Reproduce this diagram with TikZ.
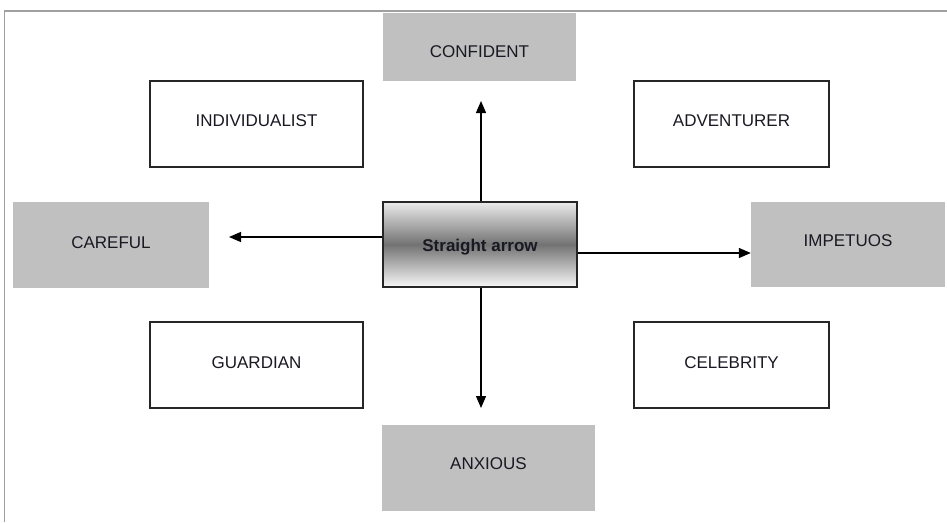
\documentclass[tikz,border=0pt]{standalone}
\usepackage{fontspec}
\setmainfont{Liberation Sans}
\usetikzlibrary{arrows.meta}
\definecolor{boxgray}{RGB}{192,192,192}
\definecolor{framegray}{RGB}{160,160,160}
\definecolor{txt}{RGB}{25,25,35}
\newcommand{\shiftup}[2]{\raisebox{#1}[12pt][0pt]{#2}}
\tikzset{
  graybox/.style={fill=boxgray, draw=none, inner sep=0pt, font=\fontsize{17}{20}\selectfont, text=txt},
  whitebox/.style={fill=white, draw=black!85, line width=1.5pt, inner sep=0pt, font=\fontsize{17}{20}\selectfont, text=txt},
  centerbox/.style={draw=black!85, line width=1.5pt, inner sep=0pt, top color=white!92!black, bottom color=white!97!black, middle color=black!55, font=\bfseries\fontsize{17}{20}\selectfont, text=txt},
  arr/.style={-{Triangle[length=12pt,width=10pt]}, line width=1.3pt, black}
}
\begin{document}
\begin{tikzpicture}[x=1pt,y=-1pt]
\useasboundingbox (0,0) rectangle (947,522);
\fill[white] (0,0) rectangle (947,522);
% frame
\draw[framegray, line width=1.5pt] (4.5,522) -- (4.5,11) -- (947,11);
% gray boxes
\node[graybox, minimum width=193pt, minimum height=68pt] (conf) at (479.5,47) {\shiftup{-4pt}{CONFIDENT}};
\node[graybox, minimum width=196pt, minimum height=86pt] (care) at (111,245) {\shiftup{3pt}{CAREFUL}};
\node[graybox, minimum width=194pt, minimum height=85pt] (imp) at (848,244.5) {\shiftup{4pt}{IMPETUOS}};
\node[graybox, minimum width=213pt, minimum height=86pt] (anx) at (488.5,468) {\shiftup{5pt}{ANXIOUS}};
% white boxes
\node[whitebox, minimum width=213pt, minimum height=86pt] (ind) at (256.5,124) {\shiftup{4pt}{INDIVIDUALIST}};
\node[whitebox, minimum width=195pt, minimum height=86pt] (adv) at (731.5,124) {\shiftup{4pt}{ADVENTURER}};
\node[whitebox, minimum width=213pt, minimum height=86pt] (gua) at (256.5,365) {\shiftup{3pt}{GUARDIAN}};
\node[whitebox, minimum width=195pt, minimum height=86pt] (cel) at (731.5,365) {\shiftup{3pt}{CELEBRITY}};
% center
\node[centerbox, minimum width=194pt, minimum height=85pt] (sa) at (480,244.5) {\shiftup{-1pt}{Straight arrow}};
% arrow ends
\coordinate (upend) at (481,101);
\coordinate (downend) at (481,408);
\coordinate (leftrow) at (0,237);
\coordinate (leftend) at (229,237);
\coordinate (rightrow) at (0,253);
\draw[arr] (sa.north -| upend) -- (upend);
\draw[arr] (sa.south -| downend) -- (downend);
\draw[arr] (sa.west |- leftrow) -- (leftend);
\draw[arr] (sa.east |- rightrow) -- (imp.west |- rightrow);
\end{tikzpicture}
\end{document}
